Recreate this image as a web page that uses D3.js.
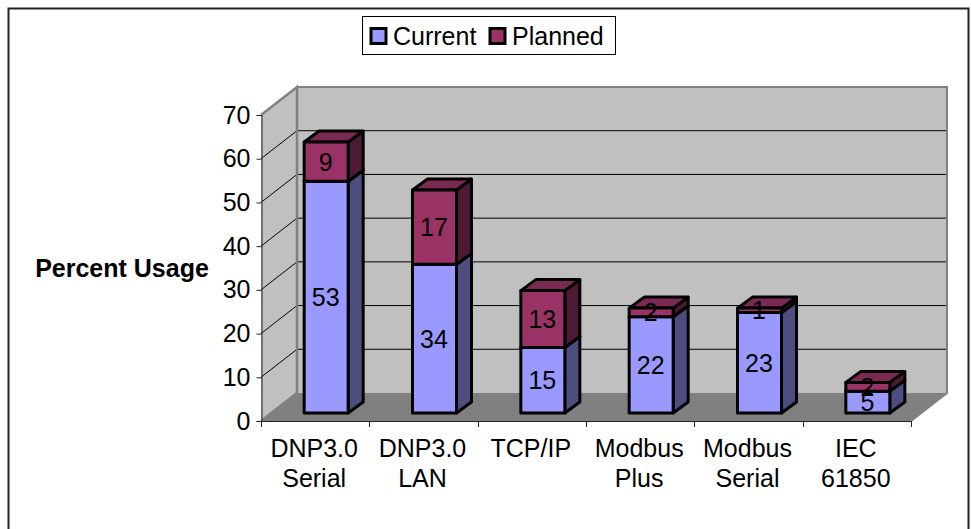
<!DOCTYPE html>
<html><head><meta charset="utf-8">
<script src="https://cdn.jsdelivr.net/npm/d3@7"></script>
<style>html,body{margin:0;padding:0;background:#fff}svg{display:block}text{font-family:"Liberation Sans",Arial,sans-serif;fill:#000}</style>
</head><body><svg id="c" width="971" height="529"></svg>
<script>
const categories=[["DNP3.0","Serial"],["DNP3.0","LAN"],["TCP/IP"],["Modbus","Plus"],["Modbus","Serial"],["IEC","61850"]];
const current=[53,34,15,22,23,5];
const planned=[9,17,13,2,1,2];
const yTicks=[0,10,20,30,40,50,60,70];
const seriesNames=["Current","Planned"];
const svg=d3.select("#c");
const x=d3.scaleBand().domain(d3.range(categories.length)).range([261,911]);
const y=d3.scaleLinear().domain([0,70]).range([421,115]);
const wallDx=36,wallDy=-28,barOffX=11,barOffY=-8,barW=44,barDx=15,barDy=-11;
const pts=a=>a.map(p=>p.join(",")).join(" ");
const fs="25px";
// frame: no bottom edge in the reference
svg.append("polyline").attr("points",pts([[8.5,529],[8.5,8.5],[968.5,8.5],[968.5,529]])).attr("fill","none").attr("stroke","#222").attr("stroke-width",2);
const X0=261,X1=911;
// walls
svg.append("polygon").attr("points",pts([[X0+wallDx,y(70)+wallDy],[X1+wallDx,y(70)+wallDy],[X1+wallDx,y(0)+wallDy],[X0+wallDx,y(0)+wallDy]])).attr("fill","#c0c0c0");
svg.append("polygon").attr("points",pts([[X0,y(70)],[X0+wallDx,y(70)+wallDy],[X0+wallDx,y(0)+wallDy],[X0,y(0)]])).attr("fill","#c0c0c0");
// gridlines
yTicks.slice(1,-1).forEach(t=>{
 svg.append("polyline").attr("points",pts([[X0,y(t)],[X0+wallDx,y(t)+wallDy],[X1+wallDx,y(t)+wallDy]])).attr("fill","none").attr("stroke","#000").attr("stroke-width",1);
});
// wall edges
svg.append("polyline").attr("points",pts([[X0,y(70)],[X0+wallDx,y(70)+wallDy],[X0+wallDx,y(0)+wallDy],[X0,y(0)]])).attr("fill","none").attr("stroke","#808080").attr("stroke-width",2.5);
svg.append("polyline").attr("points",pts([[X0+wallDx,y(70)+wallDy],[X1+wallDx,y(70)+wallDy],[X1+wallDx,y(0)+wallDy],[X1,y(0)]])).attr("fill","none").attr("stroke","#808080").attr("stroke-width",2);
svg.append("polygon").attr("points",pts([[X0,y(0)],[X0+wallDx,y(0)+wallDy],[X1+wallDx,y(0)+wallDy],[X1,y(0)]])).attr("fill","#808080");
// axes
const yAxis=d3.axisLeft(y).tickValues(yTicks).tickSize(5).tickPadding(6);
const gy=svg.append("g").attr("transform",`translate(${X0+.5},0)`).call(yAxis);
gy.selectAll("text").style("font-size",fs).attr("font-family","Liberation Sans");
gy.selectAll("line,path").attr("stroke","#222");
const gx=svg.append("g");
gx.append("line").attr("x1",X0).attr("x2",X1).attr("y1",y(0)+.5).attr("y2",y(0)+.5).attr("stroke","#222");
d3.range(categories.length+1).forEach(i=>{
 const px=Math.round(X0+i*x.step())+.5;
 gx.append("line").attr("x1",px).attr("x2",px).attr("y1",y(0)).attr("y2",y(0)+6).attr("stroke","#222");
});
categories.forEach((c,i)=>{
 const t=svg.append("text").attr("text-anchor","middle").style("font-size",fs);
 c.forEach((l,j)=>t.append("tspan").attr("x",x(i)+x.bandwidth()/2-1).attr("y",457+j*30).text(l));
});
svg.append("text").attr("x",122).attr("y",277).attr("text-anchor","middle").style("font-size",fs).style("font-weight","bold").text("Percent Usage");
// bars
const colors=[{f:"#9999ff",t:"#7a7acc",s:"#4d4d80"},{f:"#993366",t:"#7a2952",s:"#4d1a33"}];
function seg(i,a,b,c){
 const l=x(i)+x.bandwidth()/2+barOffX-barW/2,r=l+barW,yb=y(a)+barOffY,yt=y(b)+barOffY;
 const g=svg.append("g").attr("stroke","#000").attr("stroke-width",3).attr("stroke-linejoin","round");
 g.append("polygon").attr("points",pts([[r,yb],[r+barDx,yb+barDy],[r+barDx,yt+barDy],[r,yt]])).attr("fill",c.s);
 g.append("polygon").attr("points",pts([[l,yt],[l+barDx,yt+barDy],[r+barDx,yt+barDy],[r,yt]])).attr("fill",c.t);
 g.append("rect").attr("x",l).attr("y",yt).attr("width",barW).attr("height",yb-yt).attr("fill",c.f);
}
categories.forEach((_,i)=>{
 seg(i,0,current[i],colors[0]);
 seg(i,current[i],current[i]+planned[i],colors[1]);
});
categories.forEach((_,i)=>{
 [[0,current[i]],[current[i],planned[i]]].forEach(([a,v])=>{
  svg.append("text").attr("x",x(i)+x.bandwidth()/2+barOffX-.5).attr("y",y(a+v/2)+barOffY+9).attr("text-anchor","middle").style("font-size",fs).text(v);
 });
});
// legend
svg.append("rect").attr("x",362.5).attr("y",16.5).attr("width",253).attr("height",38).attr("fill","#fff").attr("stroke","#000");
seriesNames.forEach((n,i)=>{
 const lx=[371,490][i];
 svg.append("rect").attr("x",lx).attr("y",28.5).attr("width",15).attr("height",15).attr("fill",colors[i].f).attr("stroke","#000").attr("stroke-width",3);
 svg.append("text").attr("x",lx+22).attr("y",45).style("font-size",fs).text(n);
});
</script></body></html>
